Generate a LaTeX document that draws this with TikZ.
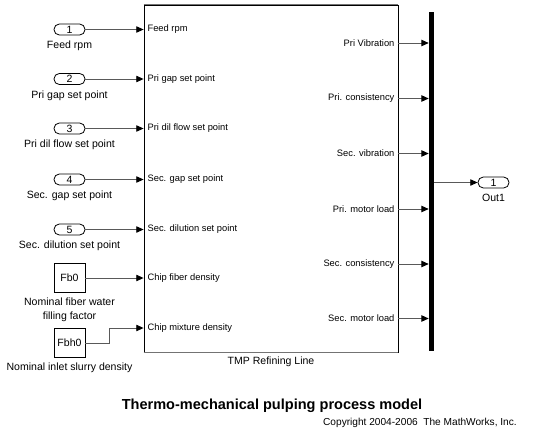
\documentclass[tikz,border=0pt]{standalone}
\usepackage{fontspec}
\setmainfont{Liberation Sans}
\usetikzlibrary{arrows.meta, positioning}
\tikzset{>={Triangle[length=5.5pt,width=4.8pt,black]}}
\tikzset{
  txt/.style={font=\fontsize{7}{9.6}\selectfont, inner sep=1pt},
  blkname/.style={font=\fontsize{7.9}{9.8}\selectfont, inner sep=1pt},
  inport/.style={draw, line width=0.6pt, rounded corners=4pt, minimum width=23.25pt, minimum height=8.25pt, inner sep=0pt, blkname},
  constblk/.style={draw, line width=0.6pt, minimum width=23.25pt, minimum height=21.5pt, inner sep=0pt, blkname},
  sig/.style={->, black!65, line width=0.7pt}
}

\begin{document}
\begin{tikzpicture}[x=0.75pt, y=-0.75pt]
\useasboundingbox (0,0) rectangle (533,440);
% subsystem and bus
\node[draw, line width=0.6pt, minimum width=190.5pt, minimum height=260.25pt, inner sep=0pt] (tmp) at (271,178.5) {};
\draw[black!55, line width=1.2pt] (tmp.north west) -- (tmp.north east);
\draw[black!55, line width=1.2pt] (tmp.south west) -- (tmp.south east);
\node[blkname, below=2pt of tmp] (tmpname) {TMP Refining Line};
\node[fill=black, minimum width=3.75pt, minimum height=254.25pt, inner sep=0pt] (bus) at (431.5,181.5) {};

% inputs
\node[inport] (in1) at (69.5,29.5) {1};
\node[blkname, below=3pt of in1] {Feed rpm};
\node[inport] (in2) at (69.5,79) {2};
\node[blkname, below=3pt of in2] {Pri gap set point};
\node[inport] (in3) at (69.5,128.5) {3};
\node[blkname, below=3pt of in3] {Pri dil flow set point};
\node[inport] (in4) at (69.5,179.5) {4};
\node[blkname, below=3pt of in4] {Sec. gap set point};
\node[inport] (in5) at (69.5,229.5) {5};
\node[blkname, below=3pt of in5] {Sec. dilution set point};
\node[constblk] (fb0) at (69.5,278) {Fb0};
\node[blkname, align=center, below=3pt of fb0] {Nominal fiber water\\filling factor};
\node[constblk] (fbh0) at (69.5,343) {Fbh0};
\node[blkname, below=3pt of fbh0] {Nominal inlet slurry density};

% input ports of the subsystem
\node[txt, anchor=west] (pfeed) at (146,29.5) {Feed rpm};
\node[txt, anchor=west] (pgap) at (146,79) {Pri gap set point};
\node[txt, anchor=west] (pdil) at (146,128.5) {Pri dil flow set point};
\node[txt, anchor=west] (sgap) at (146,179.5) {Sec. gap set point};
\node[txt, anchor=west] (sdil) at (146,229.5) {Sec. dilution set point};
\node[txt, anchor=west] (pfib) at (146,278) {Chip fiber density};
\node[txt, anchor=west] (pmix) at (146,328) {Chip mixture density};

% output ports of the subsystem
\node[txt, anchor=east] (ovib) at (396,43) {Pri Vibration};
\node[txt, anchor=east] (ocons) at (396,98.5) {Pri. consistency};
\node[txt, anchor=east] (svib) at (396,153.5) {Sec. vibration};
\node[txt, anchor=east] (pload) at (396,209) {Pri. motor load};
\node[txt, anchor=east] (scons) at (396,264) {Sec. consistency};
\node[txt, anchor=east] (sload) at (396,318.5) {Sec. motor load};

\node[inport] (out1) at (493.5,182.5) {1};
\node[blkname, below=3pt of out1] {Out1};

% signals
\draw[sig] (in1) -- (pfeed -| tmp.west);
\draw[sig] (in2) -- (pgap -| tmp.west);
\draw[sig] (in3) -- (pdil -| tmp.west);
\draw[sig] (in4) -- (sgap -| tmp.west);
\draw[sig] (in5) -- (sdil -| tmp.west);
\draw[sig] (fb0) -- (pfib -| tmp.west);
\draw[sig] (fbh0.east) -- ++(24,0) |- (pmix -| tmp.west);
\draw[sig] (ovib -| tmp.east) -- (ovib -| bus.west);
\draw[sig] (ocons -| tmp.east) -- (ocons -| bus.west);
\draw[sig] (svib -| tmp.east) -- (svib -| bus.west);
\draw[sig] (pload -| tmp.east) -- (pload -| bus.west);
\draw[sig] (scons -| tmp.east) -- (scons -| bus.west);
\draw[sig] (sload -| tmp.east) -- (sload -| bus.west);
\draw[sig] (out1 -| bus.east) -- (out1.west);

\node[font=\fontsize{10.9}{13}\selectfont\bfseries] (title) at (272,406) {Thermo-mechanical pulping process model};
\node[font=\fontsize{7.6}{9}\selectfont, anchor=east, inner sep=0pt] (copyr) at (517,423) {Copyright 2004-2006\ \ The MathWorks, Inc.};
\end{tikzpicture}
\end{document}
